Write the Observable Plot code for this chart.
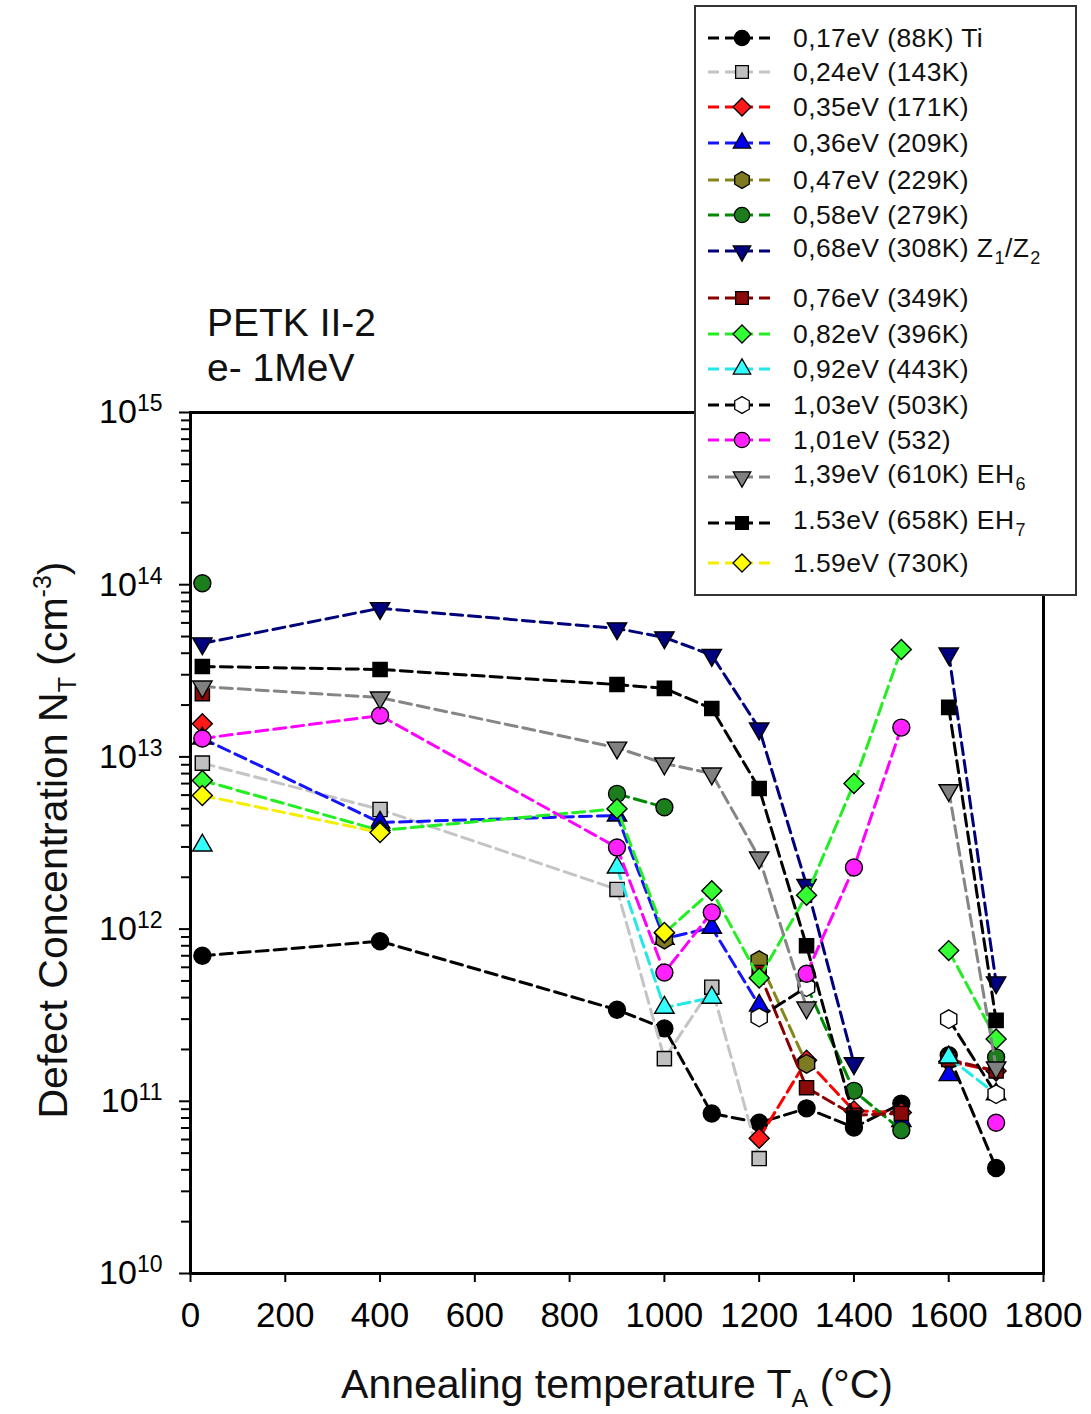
<!DOCTYPE html>
<html>
<head>
<meta charset="utf-8">
<script src="https://cdn.jsdelivr.net/npm/d3@7"></script>
<script src="https://cdn.jsdelivr.net/npm/@observablehq/plot@0.6"></script>
<style>
  html, body { margin: 0; padding: 0; background: #fff; }
  #wrap { position: relative; width: 1091px; height: 1414px; font-family: "Liberation Sans", Arial, sans-serif; color: #111; }
  #wrap svg.plot { position: absolute; left: 0; top: 0; }
  .title { position: absolute; left: 207px; top: 300px; font-size: 39px; line-height: 45px; }
  .legend { position: absolute; left: 694px; top: 5px; width: 379px; height: 587px; border: 2px solid #333; background: #fff; }
  .lrow { position: absolute; left: 11px; height: 30px; display: flex; align-items: center; font-size: 26.5px; letter-spacing: 0.4px; white-space: nowrap; }
  .lrow span { margin-left: 16px; }
  .lrow sub { font-size: 18px; vertical-align: -7px; margin-left: 1px; }
  .ytitle { position: absolute; left: -258px; top: 818px; width: 600px; height: 44px; line-height: 44px; text-align: center; font-size: 41px; transform: rotate(-90deg); white-space: nowrap; }
  .xtitle { position: absolute; left: 317px; top: 1362px; width: 600px; height: 44px; line-height: 44px; text-align: center; font-size: 41px; white-space: nowrap; }
  sub.ax { font-size: 25px; vertical-align: -9px; }
  sup.ax { font-size: 25px; vertical-align: 16px; }
</style>
</head>
<body>
<div id="wrap"></div>
<script>
// ---- data ----
const temps = [25, 400, 900, 1000, 1100, 1200, 1300, 1400, 1500, 1600, 1700];

const s017 = [7.0e11, 8.5e11, 3.4e11, 2.65e11, 8.5e10, 7.5e10, 9.1e10, 7.05e10, 9.7e10, 1.85e11, 4.1e10];
const s024 = [9.2e12, 4.95e12, 1.7e12, 1.77e11, 4.6e11, 4.65e10, null, null, null, null, null];
const s035 = [1.56e13, null, null, null, null, 6.1e10, 1.73e11, 8.8e10, 8.6e10, 1.7e11, 1.5e11];
const s036 = [1.28e13, 4.16e12, 4.57e12, 8.8e11, 1.02e12, 3.6e11, null, null, 7.7e10, 1.42e11, null];
const s047 = [null, null, null, 8.7e11, null, 6.6e11, 1.65e11, null, null, null, null];
const s058 = [1.02e14, null, 6.1e12, 5.1e12, null, null, 4.7e11, 1.15e11, 6.8e10, null, 1.8e11];
const s068 = [4.56e13, 7.3e13, 5.57e13, 4.94e13, 3.9e13, 1.46e13, 1.8e12, 1.66e11, null, 3.98e13, 4.9e11];
const s076 = [2.33e13, null, null, null, null, 5.6e11, 1.2e11, 8.3e10, 8.5e10, 1.75e11, 1.5e11];
const s082 = [7.3e12, 3.74e12, 5.0e12, 9.5e11, 1.67e12, 5.2e11, 1.57e12, 7.0e12, 4.2e13, 7.5e11, 2.3e11];
const s092 = [3.06e12, null, 2.28e12, 3.5e11, 4.0e11, null, null, null, null, 1.8e11, 1.1e11];
const s103 = [null, null, null, null, null, 3.07e11, 4.6e11, null, null, 3.0e11, 1.1e11];
const s101 = [1.28e13, 1.74e13, 2.98e12, 5.6e11, 1.25e12, null, 5.5e11, 2.28e12, 1.48e13, null, 7.5e10];
const s139 = [2.56e13, 2.21e13, 1.13e13, 9.15e12, 8.0e12, 2.6e12, 3.5e11, null, null, 6.4e12, 1.57e11];
const s153 = [3.35e13, 3.22e13, 2.63e13, 2.5e13, 1.91e13, 6.56e12, 8.0e11, 8.0e10, null, 1.94e13, 2.95e11];
const s159 = [5.97e12, 3.64e12, null, 9.55e11, null, null, null, null, null, null, null];

const labels = [
  "0,17eV (88K) Ti",
  "0,24eV (143K)",
  "0,35eV (171K)",
  "0,36eV (209K)",
  "0,47eV (229K)",
  "0,58eV (279K)",
  "0,68eV (308K) Z<sub>1</sub>/Z<sub>2</sub>",
  "0,76eV (349K)",
  "0,82eV (396K)",
  "0,92eV (443K)",
  "1,03eV (503K)",
  "1,01eV (532)",
  "1,39eV (610K) EH<sub>6</sub>",
  "1.53eV (658K) EH<sub>7</sub>",
  "1.59eV (730K)"
];
const seriesValues = [s017, s024, s035, s036, s047, s058, s068, s076, s082, s092, s103, s101, s139, s153, s159];

const xTicks = [0, 200, 400, 600, 800, 1000, 1200, 1400, 1600, 1800];
const yMajor = [1e10, 1e11, 1e12, 1e13, 1e14, 1e15];

// ---- styles ----
const triDown = {
  draw(ctx, size) {
    const s = Math.sqrt(size / (Math.sqrt(3) * 3));
    const k = Math.sqrt(3);
    ctx.moveTo(0, 2 * s);
    ctx.lineTo(k * s, -s);
    ctx.lineTo(-k * s, -s);
    ctx.closePath();
  }
};
const hexagon = {
  draw(ctx, size) {
    const R = Math.sqrt(2 * size / (3 * Math.sqrt(3)));
    for (let i = 0; i < 6; i++) {
      const a = -Math.PI / 2 + i * Math.PI / 3;
      const x = R * Math.cos(a), y = R * Math.sin(a);
      if (i === 0) ctx.moveTo(x, y); else ctx.lineTo(x, y);
    }
    ctx.closePath();
  }
};
const C = d3.symbolCircle, S = d3.symbolSquare, D = d3.symbolDiamond2, T = d3.symbolTriangle;
const styles = [
  {line: "#000000", fill: "#000000", sym: C, r: 8.5},
  {line: "#c4c4c4", fill: "#c0c0c0", sym: S, r: 8},
  {line: "#ff0000", fill: "#ff1a1a", sym: D, r: 9},
  {line: "#1414ff", fill: "#0000ee", sym: T, r: 7.2},
  {line: "#86861a", fill: "#7e7a22", sym: hexagon, r: 8.5},
  {line: "#008a00", fill: "#1b7d1b", sym: C, r: 8.5},
  {line: "#00007a", fill: "#000080", sym: triDown, r: 7.2},
  {line: "#8a0000", fill: "#8a0a0a", sym: S, r: 8},
  {line: "#22ee22", fill: "#33ff33", sym: D, r: 9},
  {line: "#22e8e8", fill: "#33ffff", sym: T, r: 7.2},
  {line: "#000000", fill: "#ffffff", sym: hexagon, r: 8.5},
  {line: "#ff00ff", fill: "#ff22ff", sym: C, r: 8.5},
  {line: "#858585", fill: "#808080", sym: triDown, r: 7.2},
  {line: "#000000", fill: "#000000", sym: S, r: 8},
  {line: "#f4ee00", fill: "#ffff00", sym: D, r: 9}
];

// ---- build tables ----
const yMinor = [];
for (let k = 10; k < 15; k++) for (let m = 2; m <= 9; m++) yMinor.push(m * Math.pow(10, k));

const marks = [];
seriesValues.forEach((vals, i) => {
  const rows = temps.map((t, j) => ({t, v: vals[j], seg: t >= 1600 ? "b" : "a"}));
  const st = styles[i];
  marks.push(Plot.line(rows, {
    x: "t", y: "v", z: "seg",
    stroke: st.line, strokeWidth: 3, strokeDasharray: "12,6"
  }));
  marks.push(Plot.dot(rows.filter(d => d.v != null), {
    x: "t", y: "v", symbol: st.sym, r: st.r,
    fill: st.fill, stroke: "#000", strokeWidth: 1.4
  }));
});

const plot = Plot.plot({
  width: 1091,
  height: 1414,
  marginLeft: 190,
  marginRight: 48,
  marginTop: 412,
  marginBottom: 141,
  style: {fontFamily: "'Liberation Sans', Arial, sans-serif", background: "transparent", color: "#000"},
  x: {domain: [0, 1800], label: null},
  y: {type: "log", domain: [1e10, 1e15], label: null},
  marks: [
    Plot.axisY({ticks: yMinor, tickSize: 9, tickFormat: () => "", strokeWidth: 2}),
    Plot.axisY({ticks: yMajor, tickSize: 11, tickPadding: 17, fontSize: 34, strokeWidth: 2,
      tickFormat: d => "10^" + Math.round(Math.log10(d))}),
    Plot.axisX({ticks: xTicks, tickSize: 9, tickPadding: 20, fontSize: 35, strokeWidth: 2,
      tickFormat: d => String(d)}),
    ...marks,
    Plot.frame({stroke: "#000", strokeWidth: 3})
  ]
});
plot.classList.add("plot");

// superscript exponents on y tick labels
plot.querySelectorAll("text").forEach(t => {
  const m = /^10\^(\d+)$/.exec(t.textContent);
  if (m) {
    t.textContent = "";
    const a = document.createElementNS("http://www.w3.org/2000/svg", "tspan");
    a.textContent = "10";
    const b = document.createElementNS("http://www.w3.org/2000/svg", "tspan");
    b.textContent = m[1];
    b.setAttribute("font-size", "23");
    b.setAttribute("dy", "-12");
    t.appendChild(a); t.appendChild(b);
  }
});

const wrap = document.getElementById("wrap");
wrap.appendChild(plot);

// title
const title = document.createElement("div");
title.className = "title";
title.innerHTML = "PETK II-2<br>e- 1MeV";
wrap.appendChild(title);

// axis titles
const yt = document.createElement("div");
yt.className = "ytitle";
yt.innerHTML = 'Defect Concentration N<sub class="ax">T</sub> (cm<sup class="ax">-3</sup>)';
wrap.appendChild(yt);
const xt = document.createElement("div");
xt.className = "xtitle";
xt.innerHTML = 'Annealing temperature T<sub class="ax">A</sub> (°C)';
wrap.appendChild(xt);

// legend
const rowCenters = [38, 72, 107, 143, 180, 215, 251, 298, 334, 369, 405, 440, 477, 523, 563];
const legend = document.createElement("div");
legend.className = "legend";
labels.forEach((lab, i) => {
  const st = styles[i];
  const row = document.createElement("div");
  row.className = "lrow";
  row.style.top = (rowCenters[i] - 7 - 15) + "px";
  const rr = st.r * 0.9;
  const path = d3.symbol().type(st.sym).size(Math.PI * rr * rr)();
  row.innerHTML =
    `<svg width="70" height="30" viewBox="0 0 70 30">
       <line x1="1" y1="15" x2="69" y2="15" stroke="${st.line}" stroke-width="2.8" stroke-dasharray="11,6"/>
       <path d="${path}" transform="translate(35,15)" fill="${st.fill}" stroke="#000" stroke-width="1.3"/>
     </svg><span>${lab}</span>`;
  legend.appendChild(row);
});
wrap.appendChild(legend);
</script>
</body>
</html>
